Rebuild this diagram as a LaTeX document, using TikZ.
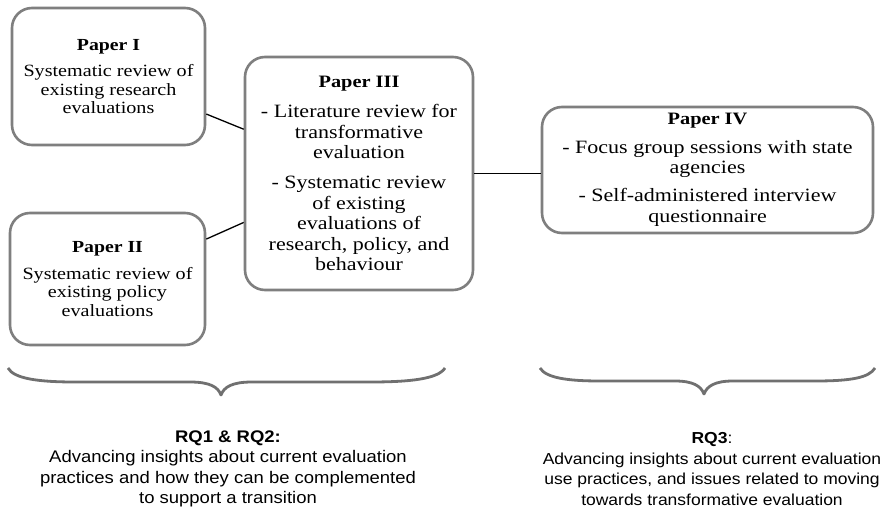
\documentclass[tikz,border=0pt]{standalone}
\usepackage{fontspec}
\newfontfamily\boxfont{Liberation Serif}[FakeStretch=1.17]
\newfontfamily\rqfont{Liberation Sans}[FakeStretch=1.1]
\definecolor{boxgray}{HTML}{7F7F7F}
\definecolor{bracegray}{HTML}{707070}
\begin{document}
\begin{tikzpicture}[x=1pt,y=-1pt,
  paper/.style={draw=boxgray,line width=2.6pt,rounded corners=20pt,fill=white,
    align=center,inner sep=0pt,text=black},
  smalltxt/.style={font={\boxfont\fontsize{17.2}{18.5}\selectfont}},
  bigtxt/.style={font={\boxfont\fontsize{18.8}{20.5}\selectfont}},
  link/.style={draw=black,line width=1.3pt},
  brace/.style={draw=bracegray,line width=2.8pt,line join=round},
  rq/.style={align=center,inner sep=0pt}]
\useasboundingbox (0,0) rectangle (889,510);
\fill[white] (0,0) rectangle (889,510);

\node[paper,smalltxt,minimum width=193pt,minimum height=137pt] (p1) at (108.5,76.5)
  {{\fontsize{16.9}{18.5}\selectfont\bfseries Paper I}\\[8pt]
   Systematic review of\\ existing research\\ evaluations};
\node[paper,smalltxt,minimum width=195pt,minimum height=132pt] (p2) at (107.5,279)
  {{\fontsize{16.9}{18.5}\selectfont\bfseries Paper II}\\[8pt]
   Systematic review of\\ existing policy\\ evaluations};
\node[paper,bigtxt,minimum width=228pt,minimum height=233pt] (p3) at (359,173.5)
  {{\fontsize{17.4}{20.5}\selectfont\bfseries Paper III}\\[10pt]
   - Literature review for\\ transformative\\ evaluation\\[9.5pt]
   - Systematic review\\ of existing\\ evaluations of\\ research, policy, and\\ behaviour};
\node[paper,bigtxt,minimum width=331pt,minimum height=126pt] (p4) at (707.5,170)
  {{\fontsize{17.4}{21}\selectfont\bfseries Paper IV}\\[8pt]
   - Focus group sessions with state\\ agencies\\[7.5pt]
   - Self-administered interview\\ questionnaire};

\draw[link] (p1.-21.8) -- (p3.159.1);
\draw[link] (p2.22.8) -- (p3.203);
\draw[link] (p3.east) -- (p3.east -| p4.west);

% braces
\coordinate (b1l) at (8,368);
\coordinate (b1t) at (221,395);
\coordinate (b1r) at (445,368);
\draw[brace] (b1l) .. controls (14,379) and (40,382) .. (75,382)
  -- (190,382) .. controls (210,382) and (218,387) .. (b1t)
  .. controls (224,387) and (232,382) .. (252,382)
  -- (370,382) .. controls (410,382) and (438,379) .. (b1r);
\coordinate (b2l) at (540,368);
\coordinate (b2t) at (704,394);
\coordinate (b2r) at (875,368);
\draw[brace] (b2l) .. controls (546,378) and (568,381) .. (600,381)
  -- (675,381) .. controls (693,381) and (701,386) .. (b2t)
  .. controls (707,386) and (715,381) .. (733,381)
  -- (815,381) .. controls (850,381) and (869,378) .. (b2r);

\node[rq,font={\rqfont\fontsize{16.8}{20.5}\selectfont}] (rq12) at (228,469)
  {\textbf{RQ1 \& RQ2:}\\ Advancing insights about current evaluation\\
   practices and how they can be complemented\\ to support a transition};
\node[rq,font={\rqfont\fontsize{15.9}{20.5}\selectfont}] (rq3) at (712,469)
  {\textbf{RQ3}:\\ Advancing insights about current evaluation\\
   use practices, and issues related to moving\\ towards transformative evaluation};
\end{tikzpicture}
\end{document}
